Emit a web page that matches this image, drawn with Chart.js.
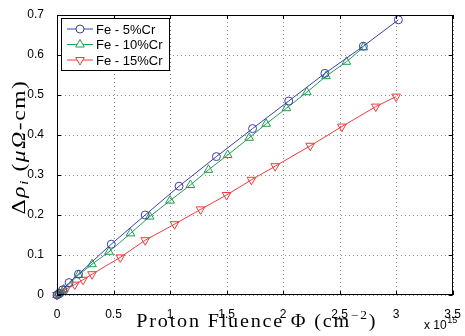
<!DOCTYPE html>
<html>
<head>
<meta charset="utf-8">
<script src="https://cdn.jsdelivr.net/npm/chart.js@4.4.1/dist/chart.umd.min.js"></script>
<style>
  html, body { margin: 0; padding: 0; background: #fff; }
  #wrap { width: 465px; height: 336px; }
</style>
</head>
<body>
<div id="wrap"><canvas id="myChart"></canvas></div>
<script>
// fluence in units of 1e15 cm^-2, delta rho in micro-ohm cm
const fluence5 = [0, 0.02, 0.05, 0.107, 0.19, 0.48, 0.78, 1.08, 1.41, 1.73, 2.05, 2.37, 2.71, 3.02];
const drho5 = [0, 0.004, 0.013, 0.031, 0.052, 0.127, 0.200, 0.272, 0.346, 0.416, 0.485, 0.554, 0.622, 0.688];

const fluence10 = [0, 0.02, 0.06, 0.19, 0.31, 0.46, 0.65, 0.82, 1.0, 1.18, 1.34, 1.51, 1.70, 1.85, 2.03, 2.21, 2.38, 2.56, 2.71];
const drho10 = [0, 0.004, 0.014, 0.050, 0.077, 0.108, 0.154, 0.196, 0.236, 0.275, 0.313, 0.350, 0.393, 0.428, 0.467, 0.507, 0.547, 0.583, 0.619];

const fluence15 = [0, 0.03, 0.08, 0.157, 0.23, 0.31, 0.56, 0.78, 1.04, 1.27, 1.5, 1.72, 1.93, 2.24, 2.52, 2.82, 3.0];
const drho15 = [0, 0.006, 0.015, 0.026, 0.038, 0.052, 0.094, 0.137, 0.177, 0.214, 0.250, 0.288, 0.322, 0.373, 0.421, 0.471, 0.496];

const seriesNames = ["Fe - 5%Cr", "Fe - 10%Cr", "Fe - 15%Cr"];
const xTicks = [0, 0.5, 1, 1.5, 2, 2.5, 3, 3.5];
const yTicks = [0, 0.1, 0.2, 0.3, 0.4, 0.5, 0.6, 0.7];

const colors = ["#3b3fae", "#1f9e4c", "#f23b3b"];
const styles = ["circle", "triangle", "triangle"];
const rotations = [0, 0, 180];
const radii = [4, 5, 5];

const SERIF = '"Liberation Serif", "Times New Roman", serif';
const SANS = '"Liberation Sans", Arial, sans-serif';

function toPoints(xs, ys) {
    const n = Math.min(xs.length, ys.length);
    let pts = [];
    for (let i = 0; i < n; i++) {
        pts.push({x: xs[i], y: ys[i]});
    }
    return pts;
}

const allData = [toPoints(fluence5, drho5), toPoints(fluence10, drho10), toPoints(fluence15, drho15)];

const datasets = allData.map((pts, i) => ({
    label: seriesNames[i],
    data: pts,
    showLine: true,
    borderColor: colors[i],
    borderWidth: 1,
    pointStyle: styles[i],
    rotation: rotations[i],
    pointRadius: radii[i],
    pointBorderColor: colors[i],
    pointBackgroundColor: 'rgba(0,0,0,0)',
    pointBorderWidth: 1,
    clip: false,
}));

// draws text runs {t, f, dy} centred on cx, spread out to about targetW
function drawRuns(ctx, parts, cx, y, targetW, spacing) {
    ctx.save();
    ctx.letterSpacing = spacing + 'px';
    let total = 0;
    for (const p of parts) { ctx.font = p.f; p.w = ctx.measureText(p.t).width; total += p.w; }
    const k = targetW / total;
    ctx.translate(cx - targetW / 2, y);
    ctx.scale(k, 1);
    let px = 0;
    for (const p of parts) {
        ctx.font = p.f;
        ctx.fillText(p.t, px, p.dy);
        px += p.w;
    }
    ctx.restore();
}

// dotted grid lines under the data
const gridPlugin = {
    id: 'dotgrid',
    beforeDatasetsDraw(chart) {
        const ctx = chart.ctx;
        const a = chart.chartArea;
        const xs = chart.scales.x, ys = chart.scales.y;
        ctx.save();
        ctx.strokeStyle = '#8c8c8c';
        ctx.lineWidth = 1;
        ctx.setLineDash([1, 3]);
        ctx.beginPath();
        for (const v of xTicks) {
            const px = Math.round(xs.getPixelForValue(v)) + 0.5;
            ctx.moveTo(px, a.bottom); ctx.lineTo(px, a.top);
        }
        for (const v of yTicks) {
            const py = Math.round(ys.getPixelForValue(v)) + 0.5;
            ctx.moveTo(a.left, py); ctx.lineTo(a.right, py);
        }
        ctx.stroke();
        ctx.restore();
    }
};

// frame, inside ticks, legend and the axis labels, matlab style
const decorPlugin = {
    id: 'decor',
    afterDraw(chart) {
        const ctx = chart.ctx;
        const a = chart.chartArea;
        const xs = chart.scales.x, ys = chart.scales.y;
        ctx.save();

        // frame
        ctx.strokeStyle = '#000';
        ctx.lineWidth = 1;
        ctx.strokeRect(Math.round(a.left) + 0.5, Math.round(a.top) + 0.5,
                       Math.round(a.right - a.left) - 1, Math.round(a.bottom - a.top) - 1);

        // tick marks pointing inwards
        const tl = 4;
        ctx.beginPath();
        for (const v of xTicks) {
            const px = Math.round(xs.getPixelForValue(v)) + 0.5;
            ctx.moveTo(px, a.bottom); ctx.lineTo(px, a.bottom - tl);
            ctx.moveTo(px, a.top); ctx.lineTo(px, a.top + tl);
        }
        for (const v of yTicks) {
            const py = Math.round(ys.getPixelForValue(v)) + 0.5;
            ctx.moveTo(a.left, py); ctx.lineTo(a.left + tl, py);
            ctx.moveTo(a.right, py); ctx.lineTo(a.right - tl, py);
        }
        ctx.stroke();

        // legend
        const lx = 61.5, ly = 18.5, lw = 108, lh = 52;
        ctx.fillStyle = '#fff';
        ctx.fillRect(lx, ly, lw, lh);
        ctx.strokeStyle = '#000';
        ctx.strokeRect(lx, ly, lw, lh);
        const rowY = [29, 44.5, 60];
        for (let i = 0; i < 3; i++) {
            ctx.strokeStyle = colors[i];
            ctx.lineWidth = 1;
            ctx.beginPath();
            ctx.moveTo(67, rowY[i]); ctx.lineTo(93, rowY[i]);
            ctx.stroke();
            ctx.fillStyle = '#fff';
            Chart.helpers.drawPoint(ctx, {
                pointStyle: styles[i], rotation: rotations[i], radius: radii[i], borderWidth: 1
            }, 80, rowY[i]);
            ctx.fillStyle = '#000';
            ctx.font = '13px ' + SANS;
            ctx.textAlign = 'left';
            ctx.textBaseline = 'middle';
            ctx.fillText(seriesNames[i], 96, rowY[i] + 1);
        }

        // x axis label
        ctx.fillStyle = '#000';
        ctx.textAlign = 'left';
        ctx.textBaseline = 'alphabetic';
        drawRuns(ctx, [
            {t: 'Proton Fluence \u03A6 (cm', f: '18px ' + SERIF, dy: 0},
            {t: '\u22122', f: '12px ' + SERIF, dy: -8},
            {t: ')', f: '18px ' + SERIF, dy: 0},
        ], (a.left + a.right) / 2 + 2, 327, 241, 1.6);

        // exponent note
        ctx.font = '12px ' + SANS;
        ctx.fillText('x 10', 424, 329);
        const wx = ctx.measureText('x 10').width;
        ctx.font = '9px ' + SANS;
        ctx.fillText('15', 424 + wx + 0.5, 323);

        // y axis label, rotated
        ctx.translate(20, 147);
        ctx.rotate(-Math.PI / 2);
        ctx.textBaseline = 'middle';
        drawRuns(ctx, [
            {t: '\u0394', f: '18px ' + SERIF, dy: 0},
            {t: '\u03C1', f: 'italic 18px ' + SERIF, dy: 0},
            {t: 'i', f: 'italic 12px ' + SERIF, dy: 5},
            {t: ' (', f: '18px ' + SERIF, dy: 0},
            {t: '\u03BC\u03A9', f: 'italic 18px ' + SERIF, dy: 0},
            {t: '-cm)', f: '18px ' + SERIF, dy: 0},
        ], 0, 0, 135, 1.2);
        ctx.restore();
    }
};

const ctx = document.getElementById('myChart').getContext('2d');
const myChart = new Chart(ctx, {
    type: 'scatter',
    data: { datasets: datasets },
    options: {
        responsive: true,
        maintainAspectRatio: false,
        animation: false,
        layout: { padding: { left: 0, right: 5, top: 15, bottom: 0 } },
        plugins: {
            legend: { display: false },
            tooltip: { enabled: false },
        },
        scales: {
            x: {
                type: 'linear',
                min: 0, max: 3.5,
                afterBuildTicks: (scale) => { scale.ticks = xTicks.map(v => ({value: v})); },
                afterFit: (scale) => { scale.height = 41; },
                ticks: {
                    color: '#000',
                    font: { family: SANS, size: 12 },
                    padding: 4,
                    maxRotation: 0,
                    autoSkip: false,
                    callback: (v) => String(v),
                },
                grid: { display: false },
                border: { display: false },
            },
            y: {
                type: 'linear',
                min: 0, max: 0.7,
                afterBuildTicks: (scale) => { scale.ticks = yTicks.map(v => ({value: v})); },
                afterFit: (scale) => { scale.width = 57; },
                ticks: {
                    color: '#000',
                    font: { family: SANS, size: 12 },
                    padding: 5,
                    autoSkip: false,
                    callback: (v) => String(v),
                },
                grid: { display: false },
                border: { display: false },
            }
        }
    },
    plugins: [gridPlugin, decorPlugin],
});
</script>
</body>
</html>
